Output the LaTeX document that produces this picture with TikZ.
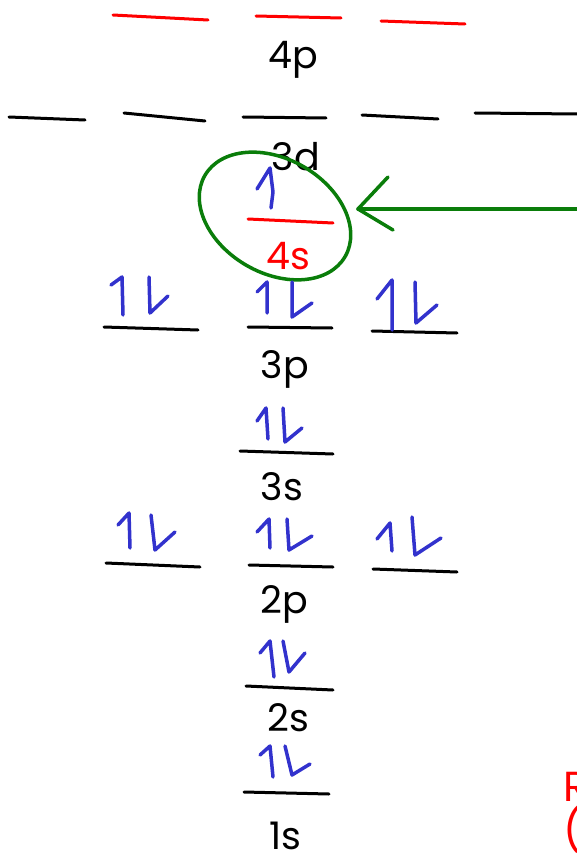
\documentclass[tikz,border=0pt]{standalone}
\usepackage{fontspec}
\setmainfont{Poppins}
\usetikzlibrary{shapes.geometric}
\definecolor{eblue}{RGB}{50,50,205}
\definecolor{egreen}{RGB}{10,125,10}
\definecolor{ered}{RGB}{255,0,0}
\tikzset{
  lvl/.style={line width=3pt,line cap=round},
  elec/.style={eblue,line width=3.5pt,line cap=round,line join=round},
  lbl/.style={font=\fontsize{38}{42}\selectfont,inner sep=0pt},
  grn/.style={egreen,line width=3.5pt,line cap=round,line join=round}
}
\begin{document}
\begin{tikzpicture}[x=1pt,y=-1pt]
\useasboundingbox (0,0) rectangle (577,856);
\clip (0,0) rectangle (577,856);
% 4p
\draw[lvl,ered] (113,15) -- (208,20);
\draw[lvl,ered] (256,16) -- (341,18);
\draw[lvl,ered] (381,21) -- (465,24);
\node[lbl] (l4p) at (293,60) {4p};
% 3d
\draw[lvl] (9,117) -- (85,120);
\draw[lvl] (124,113) -- (205,121);
\draw[lvl] (243,117) -- (326,118);
\draw[lvl] (362,115) -- (438,119);
\draw[lvl] (475,113) -- (577,114);
\node[lbl] (l3d) at (296,157) {3d};
% 4s
\draw[elec] (257,189) -- (270,168) -- (273,192) -- (271,208);
\draw[lvl,ered] (248,219) -- (333,223);
\node[lbl,text=ered] (l4s) at (288,256) {4s};
% green ellipse + arrow
\node[ellipse,draw=egreen,line width=3.5pt,minimum width=162pt,minimum height=114pt,rotate=-30,inner sep=0pt] (ring) at (275,216) {};
\coordinate (gstart) at (580,209);
\coordinate (gtip) at (358,209);
\draw[grn] (gstart) -- (gtip);
\draw[grn] (388,177) -- (gtip) -- (393,230);
% 3p
\draw[lvl] (104,327) -- (198,330);
\draw[lvl] (248,327) -- (332,328);
\draw[lvl] (372,331) -- (457,333);
\draw[elec] (111,285) -- (122,277) -- (123,315);
\draw[elec] (149,277) -- (150,313) -- (168,296);
\draw[elec] (257,292) -- (267,282) -- (267,313);
\draw[elec] (292,282) -- (292,317) -- (312,303);
\draw[elec] (377,299) -- (392,280) -- (392,330);
\draw[elec] (415,282) -- (416,323) -- (437,305);
\node[lbl] (l3p) at (285,369) {3p};
% 3s
\draw[lvl] (240,451) -- (333,454);
\draw[elec] (257,421) -- (266,408) -- (268,439);
\draw[elec] (283,408) -- (285,442) -- (302,428);
\node[lbl] (l3s) at (282,487) {3s};
% 2p
\draw[lvl] (106,563) -- (200,567);
\draw[lvl] (249,565) -- (333,567);
\draw[lvl] (373,569) -- (457,572);
\draw[elec] (118,525) -- (129,513) -- (130,548);
\draw[elec] (151,515) -- (155,550) -- (175,532);
\draw[elec] (257,532) -- (269,519) -- (270,548);
\draw[elec] (287,519) -- (289,550) -- (312,536);
\draw[elec] (377,539) -- (390,523) -- (392,551);
\draw[elec] (412,517) -- (415,555) -- (441,538);
\node[lbl] (l2p) at (284,604) {2p};
% 2s
\draw[lvl] (246,686) -- (333,690);
\draw[elec] (260,653) -- (270,641) -- (274,677);
\draw[elec] (283,641) -- (289,672) -- (305,653);
\node[lbl] (l2s) at (288,718) {2s};
% 1s
\draw[lvl] (244,792) -- (329,794);
\draw[elec] (260,755) -- (270,746) -- (273,777);
\draw[elec] (285,746) -- (292,775) -- (310,764);
\node[lbl] (l1s) at (285,836) {1s};
% cut-off red text
\node[lbl,text=ered,anchor=base west,font=\fontsize{42}{46}\selectfont] (rt1) at (563,801) {R};
\node[lbl,text=ered,anchor=base west,font=\fontsize{42}{46}\selectfont] (rt2) at (563,845) {(};
\end{tikzpicture}
\end{document}
